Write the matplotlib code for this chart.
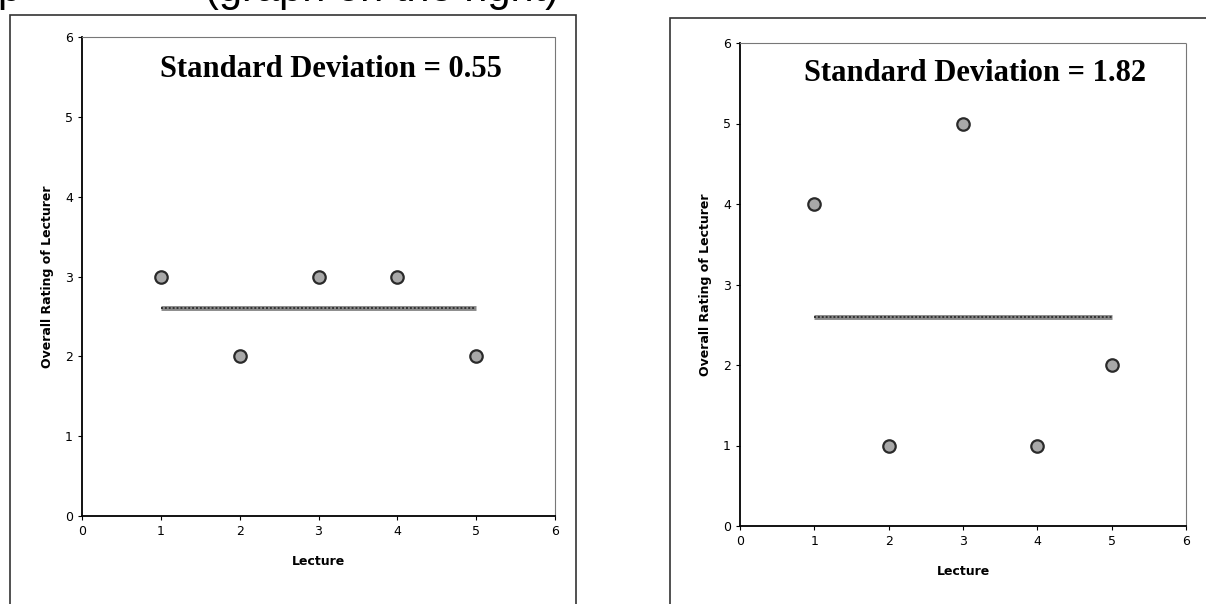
import matplotlib.pyplot as plt
from matplotlib.patches import Rectangle

lectures = [1, 2, 3, 4, 5]
ratings_low = [3, 2, 3, 3, 2]
ratings_high = [4, 1, 5, 1, 2]
mean_low = 2.6
mean_high = 2.6
titles = ["Standard Deviation = 0.55", "Standard Deviation = 1.82"]
ticks = [0, 1, 2, 3, 4, 5, 6]

fig = plt.figure(figsize=(12.06, 6.04), dpi=100)

# outer frames of each scanned panel
fig.patches.append(Rectangle((10 / 1206, -0.1), 566 / 1206, 1.1 - 15 / 604,
                             transform=fig.transFigure, fill=False,
                             ec="#333333", lw=1.2))
fig.patches.append(Rectangle((670 / 1206, -0.1), 0.5, 1.1 - 18 / 604,
                             transform=fig.transFigure, fill=False,
                             ec="#333333", lw=1.2))

# caption line cut off by the scan at the top
fig.text(-0.002, 1 - 1 / 604, "p", fontsize=30, va="baseline", ha="left",
         family="Liberation Sans")
fig.text(205 / 1206, 1 - 1 / 604, "(graph on the right)", fontsize=30,
         va="baseline", ha="left", family="Liberation Sans")

positions = [[82 / 1206, 1 - 516 / 604, 473 / 1206, 479 / 604],
             [740 / 1206, 1 - 526 / 604, 446 / 1206, 483 / 604]]
title_y = [0.962, 0.967]
datasets = [(ratings_low, mean_low), (ratings_high, mean_high)]

for pos, (vals, mean), title, ty in zip(positions, datasets, titles, title_y):
    ax = fig.add_axes(pos)
    ax.set_xlim(0, 6)
    ax.set_ylim(0, 6)
    ax.set_xticks(ticks)
    ax.set_yticks(ticks)
    ax.tick_params(labelsize=9, length=3, direction="out")
    for s in ["top", "right"]:
        ax.spines[s].set_linestyle((0, (2, 1)))
        ax.spines[s].set_color("#777777")
    ax.spines["left"].set_linewidth(1.3)
    ax.spines["bottom"].set_linewidth(1.3)

    ax.plot([lectures[0], lectures[-1]], [mean, mean], color="#888888",
            lw=3.5, solid_capstyle="butt")
    ax.plot([lectures[0], lectures[-1]], [mean, mean], color="#333333",
            lw=1.4, ls=(0, (1, 1)))
    ax.scatter(lectures, vals, s=80, c="#a8a8a8", edgecolors="#2a2a2a",
               linewidths=1.6, zorder=3, clip_on=False)

    ax.text(0.527, ty, title, transform=ax.transAxes, ha="center", va="top",
            fontsize=22, fontweight="bold", family="Liberation Serif")
    ax.set_xlabel("Lecture", fontsize=9, fontweight="bold", labelpad=12)
    ax.set_ylabel("Overall Rating of Lecturer", fontsize=9, fontweight="bold",
                  labelpad=8)

fig.savefig("out.png", dpi=100)
